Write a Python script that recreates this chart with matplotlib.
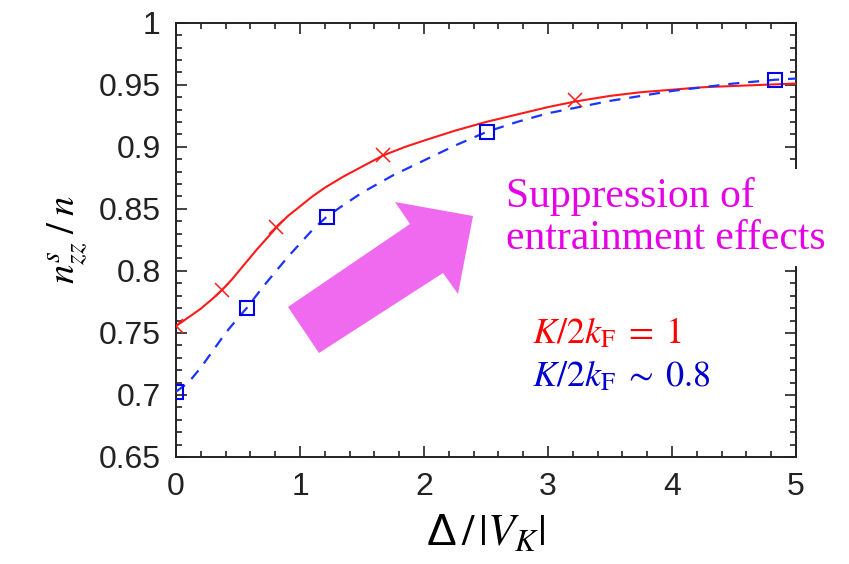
import matplotlib
matplotlib.use("Agg")
import matplotlib.pyplot as plt
from matplotlib.patches import Polygon
from matplotlib.ticker import MultipleLocator

# curve K/2kF = 1 (solid red)
red_x = [0.0, 0.1, 0.2, 0.3, 0.37, 0.45, 0.55, 0.65, 0.81, 0.9, 1.0, 1.1, 1.2, 1.35, 1.5, 1.67,
         1.85, 2.0, 2.25, 2.5, 2.75, 3.0, 3.22, 3.5, 3.75, 4.0, 4.25, 4.5, 4.75, 5.0]
red_y = [0.7555, 0.7625, 0.7695, 0.778, 0.7846, 0.793, 0.805, 0.817, 0.835, 0.844, 0.852, 0.860,
         0.867, 0.876, 0.884, 0.893, 0.900, 0.905, 0.913, 0.920, 0.926, 0.932, 0.9365, 0.941,
         0.944, 0.946, 0.948, 0.949, 0.950, 0.951]
red_mx = [0.0, 0.37, 0.81, 1.67, 3.22]
red_my = [0.7555, 0.7846, 0.835, 0.893, 0.9377]

# curve K/2kF ~ 0.8 (dashed blue)
blue_x = [0.0, 0.1, 0.2, 0.3, 0.4, 0.5, 0.57, 0.7, 0.8, 0.9, 1.0, 1.1, 1.215, 1.35, 1.5, 1.75,
          2.0, 2.25, 2.505, 2.75, 3.0, 3.25, 3.5, 3.75, 4.0, 4.25, 4.5, 4.83, 5.0]
blue_y = [0.7026, 0.710, 0.722, 0.736, 0.750, 0.762, 0.770, 0.787, 0.799, 0.811, 0.822, 0.833,
          0.8436, 0.853, 0.863, 0.877, 0.889, 0.901, 0.912, 0.920, 0.927, 0.932, 0.937, 0.941,
          0.945, 0.948, 0.951, 0.954, 0.955]
blue_mx = [0.0, 0.57, 1.215, 2.505, 4.83]
blue_my = [0.7026, 0.770, 0.8436, 0.912, 0.9538]

xtick_vals = [0, 1, 2, 3, 4, 5]
xtick_labels = ['0', '1', '2', '3', '4', '5']
ytick_vals = [0.65, 0.7, 0.75, 0.8, 0.85, 0.9, 0.95, 1.0]
ytick_labels = ['0.65', '0.7', '0.75', '0.8', '0.85', '0.9', '0.95', '1']

plt.rcParams['mathtext.fontset'] = 'stix'
plt.rcParams['font.family'] = ['Liberation Sans', 'DejaVu Sans']

W, H = 849, 564
fig = plt.figure(figsize=(W / 100, H / 100), dpi=100)
ax = fig.add_axes([176 / W, 1 - 457 / H, 620 / W, 434.3 / H])

ax.plot(red_x, red_y, color='#ff1a1a', lw=1.5, zorder=3)
ax.plot(red_mx, red_my, ls='none', marker='x', ms=10, mew=1.1, color='#ff1a1a', zorder=4)
ax.plot(blue_x, blue_y, color='#1a33ff', lw=1.6, dashes=(5, 4), zorder=3)
ax.plot(blue_mx, blue_my, ls='none', marker='s', ms=10, mfc='none', mew=1.5,
        color='#0000ee', zorder=4)

ax.set_xlim(0, 5)
ax.set_ylim(0.65, 1.0)
ax.set_xticks(xtick_vals)
ax.set_xticklabels(xtick_labels)
ax.set_yticks(ytick_vals)
ax.set_yticklabels(ytick_labels)
ax.xaxis.set_minor_locator(MultipleLocator(0.2))
ax.yaxis.set_minor_locator(MultipleLocator(0.01))
ax.tick_params(which='both', direction='in', top=True, right=True, width=1.2, color='#222222')
ax.tick_params(which='major', length=8, labelsize=23, pad=11, labelcolor='#222222')
ax.tick_params(which='minor', length=4)
for s in ax.spines.values():
    s.set_linewidth(1.4)
    s.set_color('#222222')

ax.set_ylabel(r'$n^{s}_{zz}\;/\;n$', fontsize=28, labelpad=6)
ax.set_xlabel('Δ' + r'$\,/\,|V_K|$', fontsize=32, labelpad=8)

# fat arrow (figure pixel outline)
arrow_px = [(288, 307), (410, 224), (395, 202), (473, 216), (458, 294), (443, 273), (319, 353)]
arrow = Polygon([(x / W, 1 - y / H) for x, y in arrow_px], closed=True,
                transform=fig.transFigure, facecolor='#f06af0', edgecolor='none', zorder=5)
fig.patches.append(arrow)

fig.text(506 / W, 1 - 249 / H, 'Suppression of\nentrainment effects', color='#e600e6',
         fontsize=30, family='Liberation Serif', va='baseline', ha='left', linespacing=1.12,
         bbox=dict(facecolor='white', edgecolor='none', pad=6), zorder=6)

fig.text(532 / W, 1 - 343 / H, r'$K/2k_{\mathrm{F}}\;=\;1$', color='#ff0000', fontsize=26,
         va='baseline', ha='left')
fig.text(532 / W, 1 - 386 / H, r'$K/2k_{\mathrm{F}}\;\sim\;0.8$', color='#0000cc', fontsize=26,
         va='baseline', ha='left')

fig.savefig('out.png', dpi=100)
